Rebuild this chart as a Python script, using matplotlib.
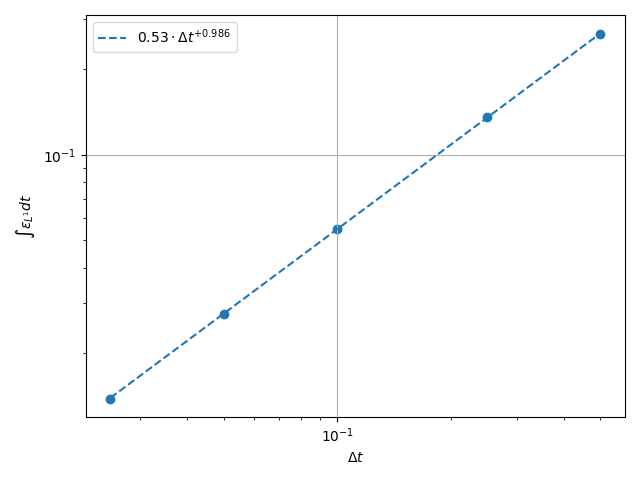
import numpy as np
import matplotlib
matplotlib.use("Agg")
import matplotlib.pyplot as plt

# time steps and integrated L1 error
dt = [0.025, 0.05, 0.1, 0.25, 0.5]
err = [0.01385, 0.02757, 0.05475, 0.1355, 0.2670]

# fit coefficients shown in the legend
fit_c = 0.53
fit_p = 0.986

dt_arr = np.array(dt)
fig, ax = plt.subplots(figsize=(6.4, 4.8))
ax.plot(dt_arr, fit_c * dt_arr ** fit_p, "--",
        label=rf"${fit_c:.2f}\cdot\Delta t^{{+{fit_p:.3f}}}$")
ax.scatter(dt, err)
ax.set_xscale("log")
ax.set_yscale("log")
ax.set_xlabel(r"$\Delta t$")
ax.set_ylabel(r"$\int \varepsilon_{L^1} dt$")
ax.grid(True)
ax.legend(loc="upper left")
fig.tight_layout()
fig.savefig("out.png", dpi=100)
